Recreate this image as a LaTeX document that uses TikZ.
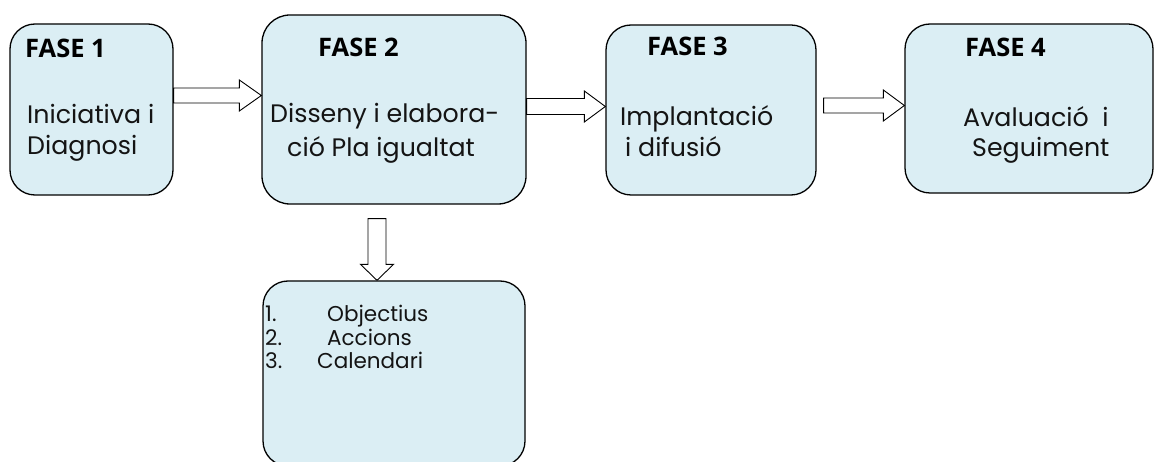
\documentclass[tikz,border=0pt]{standalone}
\usepackage{fontspec}
\setmainfont{Poppins}
\newfontfamily\fasefont{Open Sans}
\usetikzlibrary{calc}
\definecolor{boxfill}{RGB}{219,238,244}
\definecolor{txt}{RGB}{20,20,20}
\newcommand\harrow[5]{% tail, tip, shaft half, head half, head length
  \draw[blk] let \p1=(#1), \p2=(#2) in
    (\x1,\y1+#3) -- (\x2-#5,\y1+#3) -- (\x2-#5,\y1+#4) -- (\x2,\y1)
    -- (\x2-#5,\y1-#4) -- (\x2-#5,\y1-#3) -- (\x1,\y1-#3) -- cycle;}
\newcommand\varrow[5]{% tail, tip, shaft half, head half, head length
  \draw[blk] let \p1=(#1), \p2=(#2) in
    (\x1-#3,\y1) -- (\x1-#3,\y2+#5) -- (\x1-#4,\y2+#5) -- (\x1,\y2)
    -- (\x1+#4,\y2+#5) -- (\x1+#3,\y2+#5) -- (\x1+#3,\y1) -- cycle;}
\begin{document}
\begin{tikzpicture}[x=1pt,y=-1pt,
  box/.style={draw=black, line width=1.3pt, fill=boxfill, rounded corners=25pt, inner sep=0pt},
  blk/.style={draw=black, line width=0.9pt, fill=white},
  fase/.style={anchor=base west, inner sep=0pt, font=\fasefont\bfseries\fontsize{25.5}{30}\selectfont, text=black},
  body/.style={anchor=base west, inner sep=0pt, font=\fontsize{25.3}{30}\selectfont, text=txt},
  lst/.style={anchor=base west, inner sep=0pt, font=\fontsize{21.5}{24}\selectfont, text=txt}]
\useasboundingbox (0,0) rectangle (1159,462);
% boxes
\node[box, minimum width=163pt, minimum height=171pt] (b1) at (91.5,109.5) {};
\node[box, minimum width=264pt, minimum height=189pt, rounded corners=28pt] (b2) at (394,109.5) {};
\node[box, minimum width=210pt, minimum height=170pt] (b3) at (711,110) {};
\node[box, minimum width=248pt, minimum height=169pt] (b4) at (1029,108.5) {};
\node[box, minimum width=262pt, minimum height=185pt] (b5) at (394,373.5) {};
% arrows
\coordinate (a1s) at ([yshift=14pt]b1.east);
\coordinate (a1e) at (b2.west |- a1s);
\harrow{a1s}{a1e}{7.5}{15.5}{22}
\coordinate (a2s) at ([yshift=3pt]b2.east);
\coordinate (a2e) at (b3.west |- a2s);
\harrow{a2s}{a2e}{8}{15.5}{21}
\coordinate (a3s) at ([xshift=7pt,yshift=4.5pt]b3.east);
\coordinate (a3e) at (b4.west |- a3s);
\harrow{a3s}{a3e}{7.5}{15.5}{21}
\coordinate (a4s) at ([xshift=-17pt,yshift=-14pt]b2.south);
\coordinate (a4e) at (a4s |- b5.north);
\varrow{a4s}{a4e}{9}{16.5}{16}
% texts
\node[fase] (f1) at (25,58) {FASE 1};
\node[body] (t1a) at (27,124) {Iniciativa i};
\node[body] (t1b) at (27,155) {Diagnosi};
\node[fase] (f2) at (318,57) {FASE 2};
\node[body] (t2a) at (270,123) {Disseny i elabora-};
\node[body] (t2b) at (287,157) {ció Pla igualtat};
\node[fase] (f3) at (647,56) {FASE 3};
\node[body] (t3a) at (620,126) {Implantació};
\node[body] (t3b) at (625,157) {i difusió};
\node[fase] (f4) at (965,57) {FASE 4};
\node[body] (t4a) at (963,127) {Avaluació\ \ i};
\node[body] (t4b) at (972,157) {Seguiment};
\node[lst] (n1) at (265,322) {1.};
\node[lst] (l1) at (327,322) {Objectius};
\node[lst] (n2) at (265,345) {2.};
\node[lst] (l2) at (327,345) {Accions};
\node[lst] (n3) at (265,368) {3.};
\node[lst] (l3) at (317,368) {Calendari};
\end{tikzpicture}
\end{document}
